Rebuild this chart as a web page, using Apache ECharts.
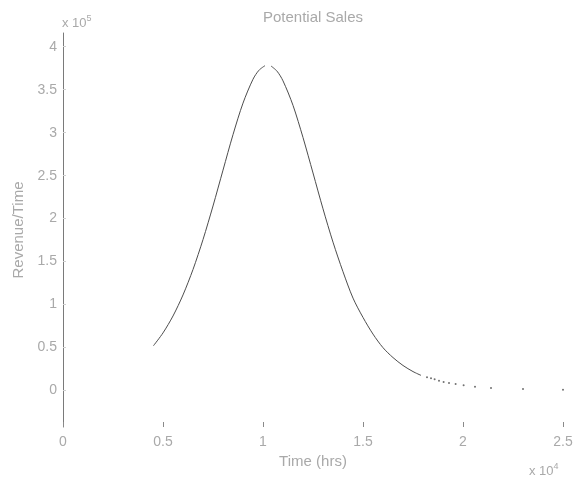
<!DOCTYPE html>
<html>
<head>
<meta charset="utf-8">
<title>Potential Sales</title>
<script src="https://cdn.jsdelivr.net/npm/echarts@6/dist/echarts.min.js"></script>
<style>
  html, body { margin: 0; padding: 0; background: #ffffff; }
  #chart { width: 573px; height: 478px; }
</style>
</head>
<body>
<div id="chart"></div>
<script>
// Revenue rate over time (hours) from the sales model solver output.
// Rising side of the curve, up to the peak.
var risingTime = [4520, 5000, 5500, 6000, 6500, 7000, 7500, 8000, 8500, 9000, 9500, 9800, 10100];
var risingRevenue = [52000, 67000, 86700, 111200, 140800, 175600, 214700, 256400, 297700, 334400, 362200, 372700, 378000];

// Falling side, from just past the peak while the solver steps are still small.
var fallingTime = [10400, 10700, 11000, 11500, 12000, 12500, 13000, 13500, 14000, 14500, 15000, 15500, 16000, 16500, 17000, 17500, 17900];
var fallingRevenue = [377600, 371600, 360300, 331800, 294400, 253100, 211400, 172600, 138200, 107500, 85000, 65600, 49800, 38300, 29100, 22000, 17600];

// Tail, where the solver takes ever larger steps (drawn as separate points).
var tailTime = [18200, 18400, 18580, 18800, 19030, 19300, 19630, 20030, 20600, 21400, 23000, 25000];
var tailRevenue = [15300, 14200, 13000, 11400, 9900, 8700, 7600, 6000, 4400, 2900, 1700, 900];

// Axis tick values.
var timeTicks = [0, 5000, 10000, 15000, 20000, 25000];
var revenueTicks = [0, 50000, 100000, 150000, 200000, 250000, 300000, 350000, 400000];

function pairs(xs, ys) {
  return xs.map(function (x, i) { return [x, ys[i]]; });
}

var textGray = '#a9a9a9';
var curveColor = '#4d4d4d';
var font = '"Liberation Sans", Arial, Helvetica, sans-serif';

var chart = echarts.init(document.getElementById('chart'), null, { renderer: 'canvas' });

chart.setOption({
  animation: false,
  backgroundColor: '#ffffff',
  textStyle: { fontFamily: font },
  title: [
    {
      text: 'Potential Sales',
      left: 313,
      top: 10,
      padding: 0,
      textAlign: 'center',
      textStyle: { color: textGray, fontSize: 15, fontWeight: 'normal', fontFamily: font }
    },
    {
      text: 'x 10{sup|5}',
      left: 62,
      top: 14,
      padding: 0,
      textStyle: {
        color: textGray, fontSize: 13, fontWeight: 'normal', fontFamily: font,
        rich: { sup: { fontSize: 9, color: textGray, fontFamily: font, padding: [0, 0, 9, 0] } }
      }
    },
    {
      text: 'x 10{sup|4}',
      left: 529,
      top: 462,
      padding: 0,
      textStyle: {
        color: textGray, fontSize: 13, fontWeight: 'normal', fontFamily: font,
        rich: { sup: { fontSize: 9, color: textGray, fontFamily: font, padding: [0, 0, 9, 0] } }
      }
    }
  ],
  grid: {
    left: 63,
    right: 10,
    top: 33,
    bottom: 51,
    containLabel: false,
    outerBoundsMode: 'none'
  },
  xAxis: {
    type: 'value',
    position: 'bottom',
    min: 0,
    max: 25000,
    interval: 5000,
    name: 'Time (hrs)',
    nameLocation: 'middle',
    nameGap: 25,
    nameTextStyle: { color: textGray, fontSize: 15, fontFamily: font },
    axisLine: { show: false, onZero: false },
    axisTick: {
      show: true, inside: true, length: 5,
      lineStyle: { color: '#8a8a8a', width: 1 }
    },
    axisLabel: {
      color: textGray, fontSize: 14, fontFamily: font, margin: 8,
      formatter: function (v) { return String(v / 10000); }
    },
    splitLine: { show: false }
  },
  yAxis: {
    type: 'value',
    min: -42500,
    max: 416000,
    name: 'Revenue/Time',
    nameLocation: 'middle',
    nameGap: 34,
    nameTextStyle: { color: textGray, fontSize: 15, fontFamily: font },
    axisLine: { show: true, onZero: false, lineStyle: { color: '#7a7a7a', width: 1 } },
    axisTick: {
      show: true, inside: true, length: 3, customValues: revenueTicks,
      lineStyle: { color: '#d0d0d0', width: 1 }
    },
    axisLabel: {
      color: textGray, fontSize: 14, fontFamily: font, margin: 6, customValues: revenueTicks,
      formatter: function (v) { return String(v / 100000); }
    },
    splitLine: { show: false }
  },
  series: [
    {
      type: 'line',
      data: pairs(risingTime, risingRevenue),
      showSymbol: false,
      smooth: 0.3,
      lineStyle: { color: curveColor, width: 1 },
      itemStyle: { color: curveColor }
    },
    {
      type: 'line',
      data: pairs(fallingTime, fallingRevenue),
      showSymbol: false,
      smooth: 0.3,
      lineStyle: { color: curveColor, width: 1 },
      itemStyle: { color: curveColor }
    },
    {
      type: 'scatter',
      data: pairs(tailTime, tailRevenue),
      symbol: 'circle',
      symbolSize: 2,
      clip: false,
      itemStyle: { color: curveColor }
    }
  ]
});
</script>
</body>
</html>
